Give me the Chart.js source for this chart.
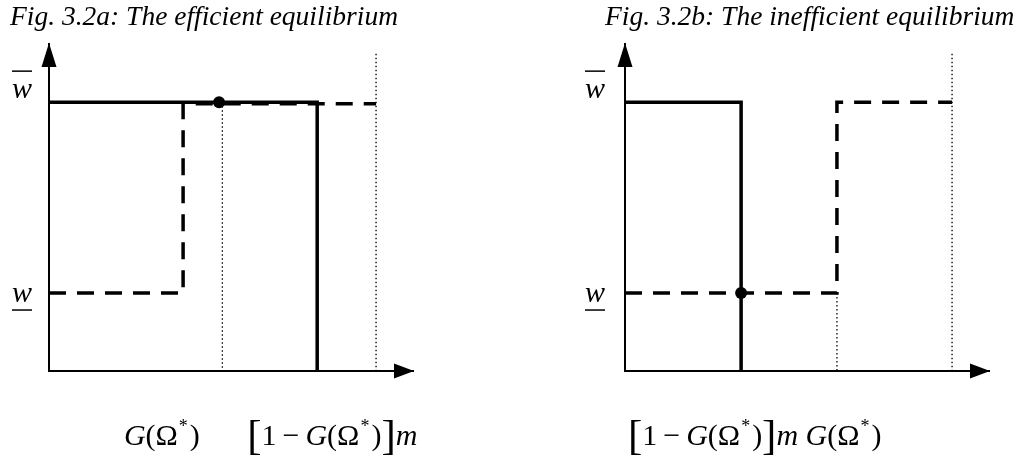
<!DOCTYPE html>
<html lang="en">
<head>
    <meta charset="UTF-8">
    <title>Fig. 3.2: efficient and inefficient equilibrium</title>
    <script src="https://cdn.jsdelivr.net/npm/chart.js"></script>
    <style>
        body { margin: 0; background: #fff; }
        .panel { position: absolute; top: 0; }
    </style>
</head>
<body>
<canvas id="figA" class="panel" width="510" height="464" style="left:0"></canvas>
<canvas id="figB" class="panel" width="511" height="464" style="left:510px"></canvas>
<script>
    // axis ranges (x: m sits at 10, y: w-bar sits at 10)
    const xMax = 11.16;
    const yMax = 12.2;
    const wLow = 2.9;
    const wHigh = 10;
    const mLevel = 10;
    const dottedTop = 11.8;

    const titles = ['Fig. 3.2a: The efficient equilibrium', 'Fig. 3.2b: The inefficient equilibrium'];

    // Fig. 3.2a
    const aSolidX = [0, 8.2, 8.2];
    const aSolidY = [wHigh, wHigh, 0];
    const aDashedX = [0, 4.1, 4.1, mLevel];
    const aDashedY = [wLow, wLow, 9.94, 9.94];
    const aDottedX = [5.3, mLevel];
    const aDotX = [5.2];
    const aDotY = [wHigh];

    // Fig. 3.2b
    const bSolidX = [0, 3.55, 3.55];
    const bSolidY = [wHigh, wHigh, 0];
    const bDashedX = [0, 6.48, 6.48, mLevel];
    const bDashedY = [wLow, wLow, wHigh, wHigh];
    const bDottedX = [6.48, mLevel];
    const bDottedTopY = [wLow, dottedTop];
    const bDotX = [3.55];
    const bDotY = [wLow];

    const pts = (xs, ys) => xs.map((x, i) => ({x: x, y: ys[i]}));

    function lineSet(data, width, dash) {
        return {
            type: 'line',
            data: data,
            borderColor: '#000',
            borderWidth: width,
            borderDash: dash || [],
            borderCapStyle: 'butt',
            borderJoinStyle: 'miter',
            pointRadius: 0,
            tension: 0,
            clip: false
        };
    }

    function dotSet(data) {
        return {
            type: 'scatter',
            data: data,
            pointRadius: 6,
            pointBackgroundColor: '#000',
            pointBorderColor: '#000',
            pointBorderWidth: 0,
            clip: false
        };
    }

    // text pieces for the x-axis labels
    const SERIF = '"Liberation Serif", "Times New Roman", serif';
    const gOmega = [
        {t: 'G', it: true}, {t: '('}, {t: 'Ω'},
        {t: '*', size: 18, dy: -13, pre: 1, post: 2}, {t: ')'}
    ];
    const oneMinusG = [
        {t: '[', size: 43, dy: 4}, {t: '1'}, {t: '−', pre: 6, post: 6}
    ].concat(gOmega, [{t: ']', size: 43, dy: 4}, {t: 'm', it: true}]);

    function drawRuns(ctx, runs, x, y) {
        runs.forEach(r => {
            ctx.font = (r.it ? 'italic ' : '') + (r.size || 30) + 'px ' + SERIF;
            x += r.pre || 0;
            ctx.fillText(r.t, x, y + (r.dy || 0));
            x += ctx.measureText(r.t).width + (r.post || 0);
        });
        return x;
    }

    const figTextPlugin = {
        id: 'figText',
        afterDatasetsDraw(chart, args, opts) {
            const ctx = chart.ctx;
            const xs = chart.scales.x, ys = chart.scales.y;
            const x0 = xs.getPixelForValue(0), y0 = ys.getPixelForValue(0);
            ctx.save();
            ctx.fillStyle = '#000';
            ctx.strokeStyle = '#000';

            // arrow heads
            const top = ys.getPixelForValue(yMax), right = xs.getPixelForValue(xMax);
            ctx.beginPath();
            ctx.moveTo(x0, top);
            ctx.lineTo(x0 - 7.5, top + 24);
            ctx.lineTo(x0 + 7.5, top + 24);
            ctx.closePath();
            ctx.fill();
            ctx.beginPath();
            ctx.moveTo(right, y0);
            ctx.lineTo(right - 20, y0 - 7.5);
            ctx.lineTo(right - 20, y0 + 7.5);
            ctx.closePath();
            ctx.fill();

            // title
            ctx.textBaseline = 'alphabetic';
            ctx.textAlign = 'left';
            ctx.font = 'italic 27.5px ' + SERIF;
            ctx.fillText(opts.title, opts.titleX, 25);

            // y labels: w with overline / underline
            ctx.font = 'italic 30px ' + SERIF;
            ctx.textAlign = 'center';
            ctx.lineWidth = 1.5;
            const lx = x0 + opts.wOffset;
            const yHi = ys.getPixelForValue(wHigh);
            ctx.fillText('w', lx, yHi - 4);
            ctx.beginPath();
            ctx.moveTo(lx - 10, yHi - 31);
            ctx.lineTo(lx + 10, yHi - 31);
            ctx.stroke();
            const yLo = ys.getPixelForValue(wLow);
            ctx.fillText('w', lx, yLo + 9);
            ctx.beginPath();
            ctx.moveTo(lx - 10, yLo + 17);
            ctx.lineTo(lx + 10, yLo + 17);
            ctx.stroke();

            // x labels
            ctx.textAlign = 'left';
            opts.xLabels.forEach(l => {
                drawRuns(ctx, l.runs, xs.getPixelForValue(l.at), y0 + 74);
            });
            ctx.restore();
        }
    };

    function makeChart(id, datasets, padding, textOpts) {
        return new Chart(document.getElementById(id), {
            data: {datasets: datasets},
            options: {
                responsive: false,
                animation: false,
                devicePixelRatio: 1,
                layout: {padding: padding},
                scales: {
                    x: {type: 'linear', min: 0, max: xMax, display: false},
                    y: {type: 'linear', min: 0, max: yMax, display: false}
                },
                plugins: {
                    legend: {display: false},
                    tooltip: {enabled: false},
                    figText: textOpts
                }
            },
            plugins: [figTextPlugin]
        });
    }

    const axisLine = pts([0, 0, xMax], [yMax, 0, 0]);

    makeChart('figA', [
        lineSet(pts([aDottedX[0], aDottedX[0]], [wHigh, 0]), 1.3, [1.5, 2.5]),
        lineSet(pts([aDottedX[1], aDottedX[1]], [dottedTop, 0]), 1.3, [1.5, 2.5]),
        lineSet(axisLine, 2),
        lineSet(pts(aDashedX, aDashedY), 3.5, [17, 11]),
        lineSet(pts(aSolidX, aSolidY), 3.5),
        dotSet(pts(aDotX, aDotY))
    ], {left: 49, right: 96, top: 43, bottom: 93}, {
        title: titles[0], titleX: 10, wOffset: -27,
        xLabels: [{at: 2.29, runs: gOmega}, {at: 6.06, runs: oneMinusG}]
    });

    makeChart('figB', [
        lineSet(pts([bDottedX[0], bDottedX[0]], [bDottedTopY[0], 0]), 1.3, [1.5, 2.5]),
        lineSet(pts([bDottedX[1], bDottedX[1]], [bDottedTopY[1], 0]), 1.3, [1.5, 2.5]),
        lineSet(axisLine, 2),
        lineSet(pts(bDashedX, bDashedY), 3.5, [17, 11]),
        lineSet(pts(bSolidX, bSolidY), 3.5),
        dotSet(pts(bDotX, bDotY))
    ], {left: 115, right: 31, top: 43, bottom: 93}, {
        title: titles[1], titleX: 95, wOffset: -30,
        xLabels: [{at: 0.09, runs: oneMinusG.concat([{t: ' '}], gOmega)}]
    });
</script>
</body>
</html>
